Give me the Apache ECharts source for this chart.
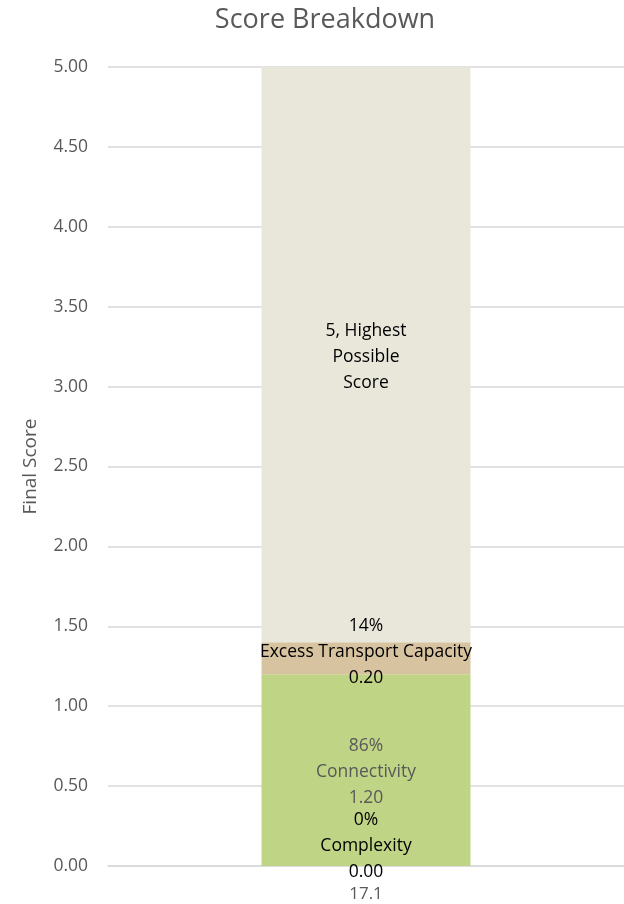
<!DOCTYPE html>
<html><head><meta charset="utf-8">
<script src="https://cdn.jsdelivr.net/npm/echarts@6/dist/echarts.min.js"></script>
<style>html,body{margin:0;padding:0;background:#fff}#c{width:624px;height:904px}</style>
</head><body><div id="c"></div>
<script>
const categories = ['17.1'];
const seriesNames = ['Complexity', 'Connectivity', 'Excess Transport Capacity', '5, Highest Possible Score'];
const complexity = [0.00];
const connectivity = [1.20];
const excess = [0.20];
const remainder = [3.60];
const yTicks = { min: 0, max: 5, interval: 0.5 };

const FONT = '"Open Sans", "Noto Sans", sans-serif';
const LBL = 17.5;
const scoreTotal = complexity[0] + connectivity[0] + excess[0];
function pct(v) { return Math.round(v / scoreTotal * 100) + '%'; }
function lbl(name, color, offset) {
  return {
    show: true, position: 'inside', offset: offset || [0, 0],
    color: color, fontFamily: FONT, fontSize: LBL, lineHeight: 26,
    formatter: p => pct(p.value) + '\n' + name + '\n' + p.value.toFixed(2)
  };
}
const chart = echarts.init(document.getElementById('c'), null, { renderer: 'canvas' });
chart.setOption({
  animation: false,
  title: {
    text: 'Score Breakdown', left: 320, textAlign: 'center', top: 2,
    textStyle: { fontFamily: FONT, fontSize: 27, fontWeight: 'normal', color: '#595959' }
  },
  grid: { left: 108, right: -12, top: 67, bottom: 38 },
  xAxis: {
    type: 'category', data: categories,
    axisLine: { show: true, lineStyle: { color: '#D9D9D9', width: 1.5 } },
    axisTick: { show: false },
    axisLabel: { color: '#595959', fontFamily: FONT, fontSize: 17, margin: 20 }
  },
  yAxis: {
    type: 'value', min: yTicks.min, max: yTicks.max, interval: yTicks.interval,
    name: 'Final Score', nameLocation: 'middle', nameGap: 68, nameRotate: 90,
    nameTextStyle: { color: '#595959', fontFamily: FONT, fontSize: 19 },
    axisLabel: { color: '#595959', fontFamily: FONT, fontSize: 17.5, margin: 20, formatter: v => v.toFixed(2) },
    splitLine: { lineStyle: { color: '#D9D9D9', width: 1.5 } },
    axisLine: { show: false }, axisTick: { show: false }
  },
  series: [
    { name: seriesNames[0], type: 'bar', stack: 's', data: complexity, barWidth: 209,
      itemStyle: { color: '#C0D486' }, label: lbl('Complexity', '#000', [0, -20]), z: 5 },
    { name: seriesNames[1], type: 'bar', stack: 's', data: connectivity, barWidth: 209,
      itemStyle: { color: '#C0D486' }, label: lbl('Connectivity', '#595959', [0, 2]) },
    { name: seriesNames[2], type: 'bar', stack: 's', data: excess, barWidth: 209,
      itemStyle: { color: '#D8C3A0' }, label: lbl('Excess Transport Capacity', '#000', [0, -6]) },
    { name: seriesNames[3], type: 'bar', stack: 's', data: remainder, barWidth: 209,
      itemStyle: { color: '#E9E7DA' },
      label: { show: true, position: 'inside', offset: [0, 2], color: '#000', fontFamily: FONT, fontSize: LBL, lineHeight: 26,
        formatter: () => '5, Highest\nPossible\nScore' } }
  ]
});
</script></body></html>
